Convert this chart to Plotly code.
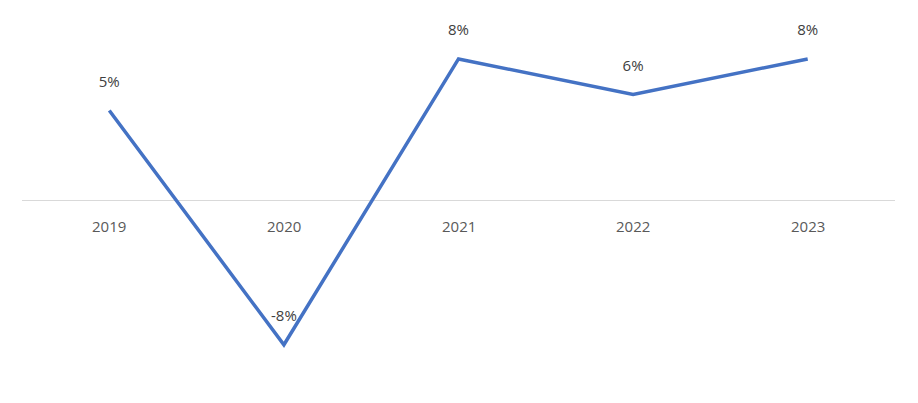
import plotly.graph_objects as go

years = ["2019", "2020", "2021", "2022", "2023"]
growth = [5.1, -8.1, 8.0, 6.0, 8.0]
labels = ["5%", "-8%", "8%", "6%", "8%"]

fig = go.Figure(go.Scatter(
    x=years, y=growth, mode="lines+markers+text", text=labels,
    textposition="top center", textfont=dict(size=15, color="#404040"),
    marker=dict(size=30, opacity=0),
    line=dict(color="#4472C4", width=3.5), cliponaxis=False, hoverinfo="skip"))

for i, yr in enumerate(years):
    fig.add_annotation(x=i, y=0, xref="x", yref="y", text=yr, showarrow=False,
                       yshift=-25, font=dict(size=15, color="#595959"))

fig.update_layout(
    width=902, height=387, margin=dict(l=14, r=15, t=0, b=0),
    plot_bgcolor="white", paper_bgcolor="white", showlegend=False,
    font=dict(family="Open Sans"),
    xaxis=dict(range=[-0.5, 4.5], showticklabels=False, showgrid=False, zeroline=False),
    yaxis=dict(range=[-10.93, 10.87], showticklabels=False, showgrid=False,
               zeroline=True, zerolinecolor="#D9D9D9", zerolinewidth=1))

fig.write_html("out.html")
